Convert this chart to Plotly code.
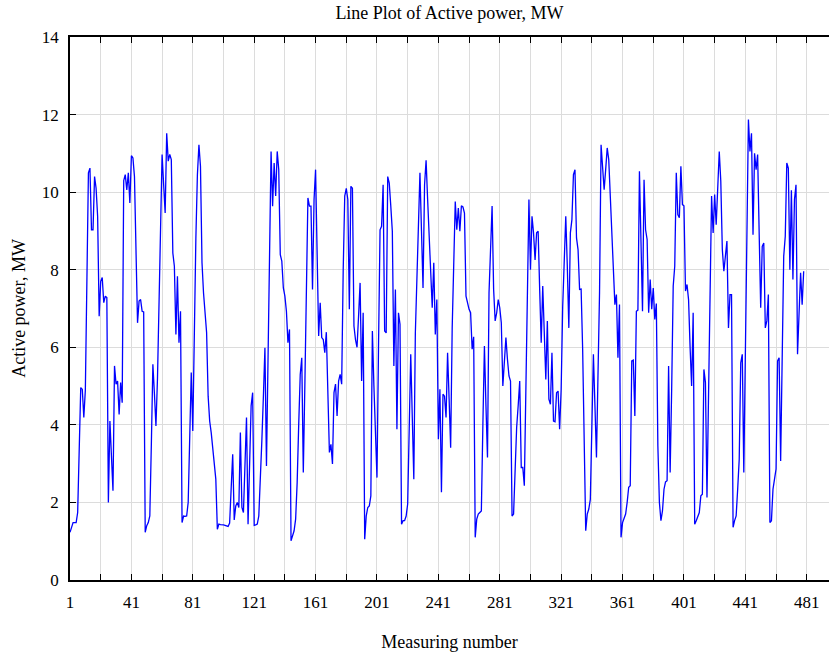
import plotly.graph_objects as go

# Active power readings, MW, one value per measuring number (1..479)
power_mw = [
    1.23, 1.36, 1.48, 1.48, 1.48, 1.74, 3.4, 4.96, 4.92, 4.19,
    4.9, 7.8, 10.5, 10.62, 9.03, 9.03, 10.4, 10.1, 9.38, 6.8,
    7.7, 7.8, 7.15, 7.32, 7.28, 2.0, 4.1, 3.2, 2.3, 5.52,
    5.05, 5.13, 4.27, 5.09, 4.57, 10.3, 10.45, 10.06, 10.5, 9.72,
    10.94, 10.88, 10.4, 8.5, 6.63, 7.19, 7.23, 6.93, 6.91, 1.23,
    1.4, 1.48, 1.65, 3.5, 5.56, 4.8, 3.97, 5.2, 6.9, 9.2,
    10.97, 10.2, 9.46, 11.52, 10.8, 10.97, 10.84, 8.43, 8.09, 6.33,
    7.83, 6.12, 6.93, 1.48, 1.65, 1.64, 1.65, 2.0, 3.6, 5.35,
    3.84, 6.89, 8.8, 10.45, 11.22, 10.67, 8.18, 7.4, 6.8, 6.38,
    4.74, 4.1, 3.8, 3.37, 3.0, 2.6, 1.31, 1.44, 1.43, 1.43,
    1.42, 1.41, 1.4, 1.38, 1.47, 2.4, 3.24, 1.55, 1.91, 2.0,
    1.87, 3.8, 1.87, 1.74, 2.9, 4.19, 1.44, 3.0, 4.49, 4.83,
    1.41, 1.42, 1.44, 1.65, 2.51, 3.6, 4.74, 5.99, 2.94, 5.5,
    8.0, 11.05, 9.64, 10.75, 9.9, 11.05, 10.58, 8.39, 8.22, 7.53,
    7.32, 6.93, 6.12, 6.46, 1.01, 1.15, 1.27, 1.57, 2.51, 4.0,
    5.3, 5.73, 2.77, 5.0, 7.23, 9.85, 9.64, 9.64, 7.49, 9.81,
    10.58, 8.52, 6.29, 7.15, 6.25, 6.2, 5.86, 6.39, 4.66, 3.29,
    3.5, 2.99, 4.83, 5.05, 4.23, 5.13, 5.3, 5.05, 8.0, 9.9,
    10.1, 9.81, 6.98, 10.15, 10.1, 6.55, 6.2, 6.0, 6.8, 7.66,
    5.13, 6.89, 1.05, 1.65, 1.87, 1.91, 2.17, 6.42, 5.0, 3.8,
    2.64, 6.0, 9.03, 9.12, 10.19, 6.42, 6.37, 10.4, 10.23, 9.64,
    8.99, 5.52, 7.49, 3.89, 6.89, 6.59, 1.44, 1.53, 1.53, 1.65,
    1.96, 3.9, 5.82, 4.2, 2.6, 6.37, 7.8, 9.16, 10.5, 9.0,
    7.53, 10.19, 10.82, 9.81, 8.78, 8.09, 7.02, 8.18, 6.33, 7.23,
    3.63, 4.92, 2.26, 4.79, 4.74, 4.19, 5.86, 4.66, 3.41, 6.5,
    8.5, 9.76, 9.03, 9.59, 8.99, 9.65, 9.62, 9.46, 7.32, 7.1,
    6.98, 6.89, 5.95, 6.27, 1.1, 1.57, 1.7, 1.74, 1.78, 4.0,
    6.03, 4.5, 3.16, 7.4, 8.5, 9.64, 7.49, 6.68, 6.89, 7.23,
    7.02, 6.63, 5.0, 5.6, 6.25, 5.69, 5.26, 5.13, 1.65, 1.7,
    2.86, 3.93, 4.5, 5.13, 2.9, 2.9, 2.43, 5.0, 7.96, 9.81,
    8.0, 9.38, 8.95, 8.25, 8.95, 8.99, 7.5, 6.12, 7.58, 6.37,
    5.17, 6.68, 4.66, 4.53, 5.86, 4.1, 4.08, 4.83, 4.87, 3.89,
    4.92, 7.06, 8.2, 9.38, 8.09, 6.5, 8.95, 9.29, 10.45, 10.58,
    8.82, 8.52, 7.49, 7.5, 5.95, 3.6, 1.27, 1.7, 1.83, 2.08,
    3.9, 5.82, 4.5, 3.16, 5.3, 7.4, 11.22, 10.5, 10.06, 10.58,
    11.14, 10.84, 9.81, 8.69, 7.9, 7.1, 7.36, 5.73, 7.1, 1.1,
    1.48, 1.61, 1.7, 2.0, 2.39, 2.43, 5.65, 5.67, 4.23, 6.93,
    6.96, 10.54, 8.95, 6.93, 10.32, 9.03, 8.78, 6.89, 7.75, 6.98,
    7.53, 6.72, 7.13, 3.46, 2.0, 1.53, 1.78, 2.34, 2.53, 2.56,
    5.52, 2.77, 4.92, 7.58, 8.09, 10.5, 9.42, 9.34, 10.67, 9.68,
    9.65, 7.45, 7.62, 7.23, 6.0, 5.0, 6.89, 1.44, 1.53, 1.65,
    1.74, 2.17, 2.21, 5.43, 5.09, 2.13, 4.8, 7.32, 9.9, 8.95,
    9.94, 9.16, 10.23, 11.05, 10.28, 8.52, 7.96, 8.35, 8.74, 6.5,
    7.36, 7.36, 1.36, 1.53, 1.65, 2.34, 3.11, 5.6, 5.82, 2.77,
    5.5, 8.09, 11.87, 11.05, 11.52, 8.9, 11.0, 10.58, 10.97, 8.95,
    7.02, 8.6, 8.69, 6.5, 6.68, 7.36, 1.48, 1.53, 2.34, 2.6,
    2.86, 5.65, 5.73, 3.07, 5.7, 8.35, 8.86, 10.75, 10.62, 8.0,
    10.05, 7.75, 9.81, 10.19, 5.82, 7.06, 7.92, 7.1, 7.96,
]
measuring_number = list(range(1, len(power_mw) + 1))

x_tick_values = list(range(1, 482, 40))
y_tick_values = list(range(0, 15, 2))

FONT = "Liberation Serif, Times New Roman, serif"
GRID = "#dcdcdc"

fig = go.Figure(
    go.Scatter(
        x=measuring_number,
        y=power_mw,
        mode="lines",
        line=dict(color="#0000ff", width=1.3),
        hoverinfo="x+y",
    )
)

fig.update_layout(
    width=829,
    height=655,
    margin=dict(l=70, r=0, t=37, b=75),
    paper_bgcolor="white",
    plot_bgcolor="white",
    showlegend=False,
    font=dict(family=FONT, size=17, color="black"),
    title=dict(
        text="Line Plot of Active power, MW",
        font=dict(family=FONT, size=18, color="black"),
        x=0.5,
        xref="paper",
        xanchor="center",
        y=1 - 13 / 655,
        yref="container",
        yanchor="middle",
    ),
)

fig.update_xaxes(
    range=[1, 495.5],
    tickmode="array",
    tickvals=x_tick_values,
    ticks="inside",
    ticklen=6,
    tickwidth=1,
    tickcolor="black",
    ticklabelstandoff=6,
    showline=True,
    linecolor="black",
    linewidth=1.5,
    mirror="ticks",
    showgrid=True,
    gridcolor=GRID,
    gridwidth=1,
    zeroline=False,
    minor=dict(
        tick0=1,
        dtick=20,
        ticks="inside",
        ticklen=6,
        tickcolor="black",
        showgrid=True,
        gridcolor=GRID,
        gridwidth=1,
    ),
    title=dict(text="Measuring number", font=dict(family=FONT, size=18), standoff=24),
)

fig.update_yaxes(
    range=[0, 14],
    tickmode="array",
    tickvals=y_tick_values,
    ticks="inside",
    ticklen=6,
    tickwidth=1,
    tickcolor="black",
    ticklabelstandoff=6,
    showline=True,
    linecolor="black",
    linewidth=1.5,
    showgrid=True,
    gridcolor=GRID,
    gridwidth=1,
    zeroline=False,
    title=dict(text="Active power, MW", font=dict(family=FONT, size=18), standoff=12),
)

fig.write_html("out.html")
